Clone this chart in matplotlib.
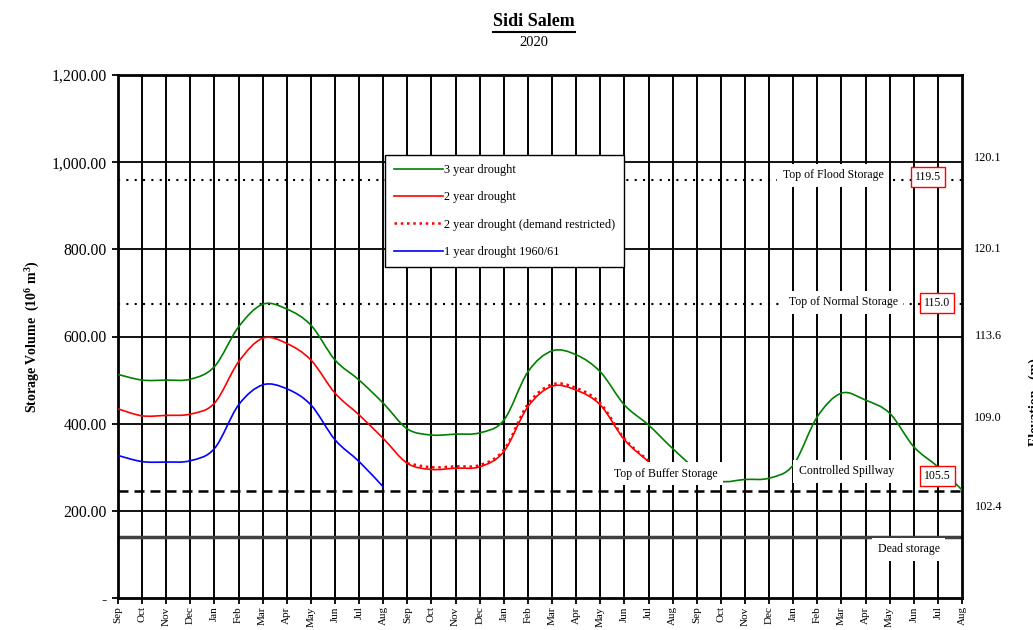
import numpy as np
import matplotlib
matplotlib.use('Agg')
import matplotlib.pyplot as plt
from matplotlib.path import Path
from matplotlib.patches import PathPatch
from matplotlib.lines import Line2D

plt.rcParams['font.family'] = ['Liberation Serif', 'DejaVu Serif']
plt.rcParams['mathtext.fontset'] = 'custom'
plt.rcParams['mathtext.rm'] = 'Liberation Serif'
plt.rcParams['mathtext.bf'] = 'Liberation Serif:bold'

# ---- data (10^6 m^3), one value per month starting Sep ----
month_names = ['Sep', 'Oct', 'Nov', 'Dec', 'Jan', 'Feb', 'Mar', 'Apr', 'May', 'Jun', 'Jul', 'Aug']
months = month_names * 3

drought_3yr = [513, 500, 500, 502, 531, 622, 674, 663, 626, 546, 500, 447,
               388, 374, 376, 379, 408, 519, 567, 558, 519, 443, 397, 343,
               295, 268, 272, 275, 305, 416, 470, 454, 424, 347, 301, 248]
drought_2yr = [434, 418, 419, 422, 447, 542, 596, 584, 546, 470, 420, 366,
               309, 295, 298, 301, 336, 439, 486, 477, 443, 363, 313]
drought_2yr_restricted = [309, 300, 302, 305, 340, 445, 490, 482, 447, 366, 315]
restricted_start = 12
drought_1yr = [327, 313, 312, 315, 343, 443, 489, 480, 443, 363, 313, 255]

flood_storage = 959
normal_storage = 675
buffer_storage = 246
dead_storage = 140

right_labels = ['120.1', '120.1', '113.6', '109.0', '102.4']
right_label_vals = [1010, 800, 601, 412, 209]


def smooth(xs, ys):
    # excel-style smoothed line through the monthly points
    pts = np.column_stack([xs, ys]).astype(float)
    verts = [pts[0]]
    codes = [Path.MOVETO]
    n = len(pts)
    for i in range(n - 1):
        p0 = pts[i - 1] if i > 0 else pts[i]
        p1 = pts[i]
        p2 = pts[i + 1]
        p3 = pts[i + 2] if i + 2 < n else pts[i + 1]
        verts += [p1 + (p2 - p0) / 6, p2 - (p3 - p1) / 6, p2]
        codes += [Path.CURVE4] * 3
    return Path(verts, codes)


fig = plt.figure(figsize=(10.33, 6.30), dpi=100)
ax = fig.add_axes([118 / 1033, 32 / 630, 844 / 1033, 523 / 630])

ax.set_xlim(0, 35)
ax.set_ylim(0, 1200)

# grid
for x in range(1, 35):
    ax.axvline(x, color='black', lw=1.4, zorder=1)
for y in range(200, 1200, 200):
    ax.axhline(y, color='black', lw=1.3, zorder=1)

# reference levels
ax.axhline(flood_storage, color='black', lw=1.5, ls=(0, (1, 3)), zorder=2)
ax.axhline(normal_storage, color='black', lw=1.5, ls=(0, (1, 3)), zorder=2)
ax.axhline(buffer_storage, color='black', lw=1.8, ls=(0, (4, 2.4)), zorder=2)
ax.axhline(dead_storage, color='#404040', lw=2.5, zorder=2)

series = [
    (np.arange(len(drought_3yr)), drought_3yr, '#008000', '-', '3 year drought'),
    (np.arange(len(drought_2yr)), drought_2yr, '#ff0000', '-', '2 year drought'),
    (np.arange(len(drought_2yr_restricted)) + restricted_start, drought_2yr_restricted,
     '#ff0000', (0, (1, 1.5)), '2 year drought (demand restricted)'),
    (np.arange(len(drought_1yr)), drought_1yr, '#0000ff', '-', '1 year drought 1960/61'),
]
handles = []
for xs, ys, c, ls, lab in series:
    lw = 1.8 if ls != '-' else 1.2
    ax.add_patch(PathPatch(smooth(xs, ys), facecolor='none', edgecolor=c, lw=lw,
                           linestyle=ls, zorder=3))
    handles.append(Line2D([], [], color=c, lw=lw, linestyle=ls, label=lab))

# labels on the reference levels
wbox = dict(facecolor='white', edgecolor='none', pad=4)
rbox = dict(facecolor='white', edgecolor='red', lw=1, pad=3)
fs = 8.5
ax.text(29.65, 970, 'Top of Flood Storage', fontsize=fs, ha='center', va='center', bbox=wbox, zorder=4)
ax.text(33.6, 966, '119.5', fontsize=fs, ha='center', va='center', bbox=rbox, zorder=4)
ax.text(30.07, 679, 'Top of Normal Storage', fontsize=fs, ha='center', va='center', bbox=wbox, zorder=4)
ax.text(33.97, 677, '115.0', fontsize=fs, ha='center', va='center', bbox=rbox, zorder=4)
ax.text(22.7, 285, 'Top of Buffer Storage', fontsize=fs, ha='center', va='center', bbox=wbox, zorder=4)
ax.text(30.2, 291, 'Controlled Spillway', fontsize=fs, ha='center', va='center', bbox=wbox, zorder=4)
ax.text(33.97, 280, '105.5', fontsize=fs, ha='center', va='center', bbox=rbox, zorder=4)
ax.text(32.8, 112, 'Dead storage', fontsize=fs, ha='center', va='center', bbox=wbox, zorder=4)

# elevation labels on the right
ytr = ax.get_yaxis_transform()
for lab, v in zip(right_labels, right_label_vals):
    ax.text(1.031, v, lab, fontsize=8.8, ha='center', va='center', transform=ytr, clip_on=False)
ax.text(1.087, 0.375, 'Elevation   (m)', fontsize=10, fontweight='bold', rotation=90,
        ha='center', va='center', transform=ax.transAxes, clip_on=False)

# axes styling
ax.set_xticks(range(36))
ax.set_xticklabels(months, rotation=90, fontsize=8)
yt = list(range(0, 1201, 200))
ax.set_yticks(yt)
ax.set_yticklabels(['-'] + ['{:,.2f}'.format(v) for v in yt[1:]], fontsize=11.3)
ax.tick_params(axis='both', direction='out', length=4, width=1.3, color='black')
ax.tick_params(axis='x', pad=2)
ax.tick_params(axis='y', pad=4)
for s in ax.spines.values():
    s.set_linewidth(2)
ax.set_ylabel(r'Storage Volume  (10$^{\mathbf{6}}$ m$^{\mathbf{3}}$)', fontsize=10,
              fontweight='bold', labelpad=8)

leg = ax.legend(handles=handles, loc='upper left', bbox_to_anchor=(0.316, 0.847),
                borderaxespad=0, fontsize=8.8, frameon=True, fancybox=False,
                edgecolor='black', framealpha=1, handlelength=4.0, handletextpad=0.1,
                labelspacing=1.25, borderpad=0.75)
leg.get_frame().set_linewidth(1)
leg.set_zorder(5)

# title
t = fig.text(534 / 1033, 1 - 22 / 630, 'Sidi Salem', fontsize=13, fontweight='bold',
             ha='center', va='center')
fig.text(534 / 1033, 1 - 43 / 630, '2020', fontsize=10.5, ha='center', va='center')
fig.canvas.draw()
bb = t.get_window_extent().transformed(fig.transFigure.inverted())
fig.add_artist(Line2D([bb.x0, bb.x1], [bb.y0 - 0.002, bb.y0 - 0.002], color='black',
                      lw=1.5, transform=fig.transFigure))

fig.savefig('out.png', dpi=100)
